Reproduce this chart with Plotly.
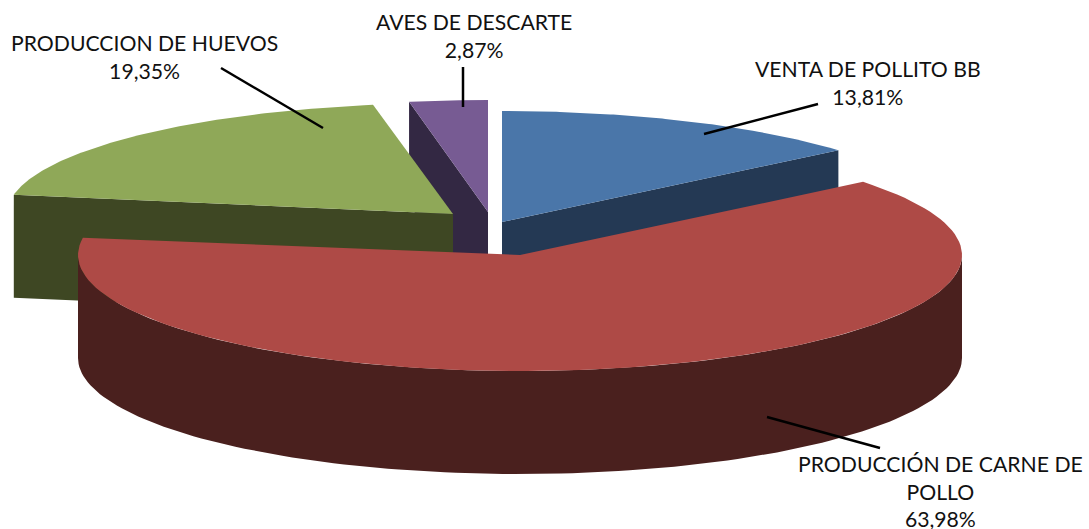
import numpy as np
import plotly.graph_objects as go

# ---- data ----
categories = ["VENTA DE POLLITO BB", "PRODUCCIÓN DE CARNE DE<br>POLLO", "PRODUCCION DE HUEVOS", "AVES DE DESCARTE"]
shares = [13.81, 63.98, 19.35, 2.87]

# ---- drawing style / projection (pixels) ----
top_colors = ["#4a76a9", "#ae4a46", "#8fa858", "#775b93"]
wall_colors = ["#243954", "#4a201e", "#3e4723", "#332843"]
apex_x = [502, 520, 453, 488]
apex_y = [222, 255, 214, 212]
radius_x = [441, 442, 446, 440]
radius_y = [111, 116, 111, 112]
trim_start = [0, 1.2, 0, 0]   # degrees: small projection correction of the slice ends
trim_end = [0, -1.5, 0, 0]
DEPTH = 103
label_x = [868, 940, 144, 474]
label_y = [83, 491, 57, 36]
leaders = [((704, 134), (818, 104)), ((767, 417), (880, 448)), ((323, 128), (221, 68)), ((463, 107), (463, 67))]

# slice angle limits come from the values, clockwise from 12 o'clock
edges = np.concatenate([[0], np.cumsum(shares)]) / sum(shares) * 2 * np.pi


def rim(i, t0, t1, n=120):
    t = np.linspace(t0, t1, n)
    return apex_x[i] + radius_x[i] * np.sin(t), apex_y[i] - radius_y[i] * np.cos(t)


def poly(fig, x, y, color):
    fig.add_trace(go.Scatter(x=list(x) + [x[0]], y=list(y) + [y[0]], mode="lines", fill="toself",
                             fillcolor=color, line=dict(width=0, color=color),
                             hoverinfo="skip", showlegend=False))


def radial_wall(fig, i, t):
    ex, ey = rim(i, t, t, 1)
    poly(fig, [apex_x[i], ex[0], ex[0], apex_x[i]],
         [apex_y[i], ey[0], ey[0] + DEPTH, apex_y[i] + DEPTH], wall_colors[i])


def outer_wall(fig, i, t0, t1):
    x, y = rim(i, t0, t1)
    poly(fig, np.concatenate([x, x[::-1]]), np.concatenate([y, y[::-1] + DEPTH]), wall_colors[i])


def top(fig, i):
    t0 = edges[i] + np.radians(trim_start[i])
    t1 = edges[i + 1] + np.radians(trim_end[i])
    x, y = rim(i, t0, t1)
    poly(fig, np.concatenate([[apex_x[i]], x]), np.concatenate([[apex_y[i]], y]), top_colors[i])


fig = go.Figure()
# painter's order: back slices first, the big front slice last
radial_wall(fig, 3, edges[3])
top(fig, 3)
radial_wall(fig, 2, edges[2])
top(fig, 2)
radial_wall(fig, 0, edges[1])
top(fig, 0)
outer_wall(fig, 1, 0.5 * np.pi, 1.5 * np.pi)
top(fig, 1)

for (a, b) in leaders:
    fig.add_trace(go.Scatter(x=[a[0], b[0]], y=[a[1], b[1]], mode="lines",
                             line=dict(color="black", width=2.5), hoverinfo="skip", showlegend=False))

for name, val, lx, ly in zip(categories, shares, label_x, label_y):
    fig.add_annotation(x=lx, y=ly, xref="x", yref="y", showarrow=False, align="center",
                       text=f"{name}<br>{val:.2f}%".replace(".", ","),
                       font=dict(family="Lato", size=21.2, color="#111111"))

fig.update_layout(width=1089, height=529, margin=dict(l=0, r=0, t=0, b=0),
                  paper_bgcolor="white", plot_bgcolor="white", showlegend=False,
                  xaxis=dict(range=[0, 1089], visible=False, fixedrange=True),
                  yaxis=dict(range=[529, 0], visible=False, fixedrange=True))

fig.write_html("out.html", config={"displayModeBar": False},
               post_script="document.body.style.margin='0';document.body.style.overflow='hidden';")
